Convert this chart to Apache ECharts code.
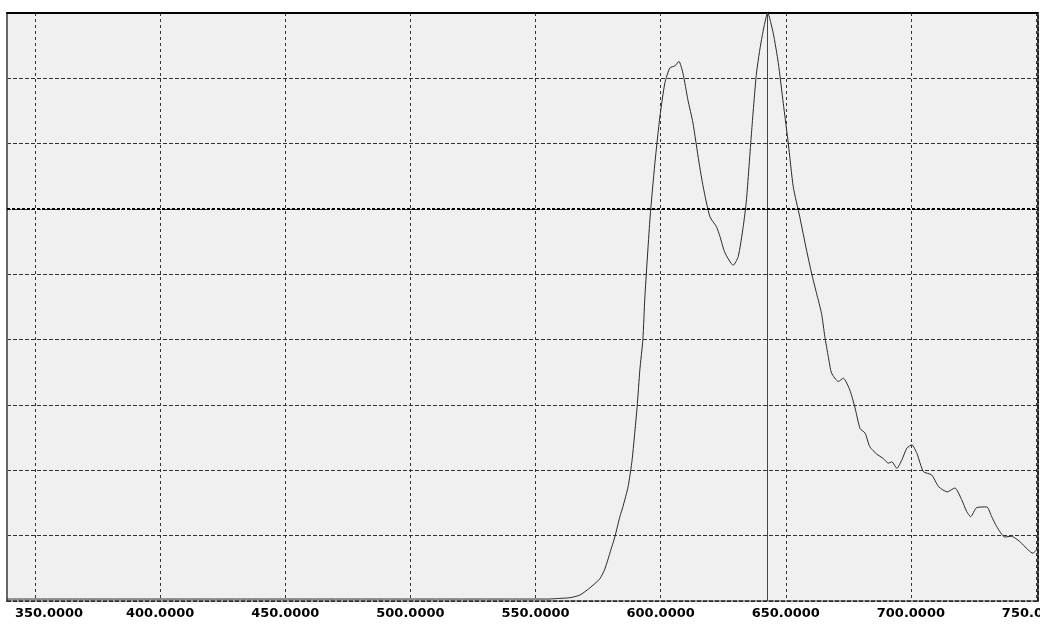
<!DOCTYPE html>
<html>
<head>
<meta charset="utf-8">
<script src="https://cdn.jsdelivr.net/npm/echarts@6/dist/echarts.min.js"></script>
<style>html,body{margin:0;padding:0;background:#fff}#c{width:1040px;height:628px}</style>
</head>
<body>
<div id="c"></div>
<script>
// Wavelength (nm) and relative intensity (in grid units, 0..9)
const wavelengths = [338.8,350,360,370,380,390,400,410,420,430,440,450,460,470,480,490,500,510,520,530,540,550,555,559.7,563.7,567.7,571.7,575.7,577.7,580.5,581.7,583.7,584.9,587.0,588.6,590.6,591.7,592.9,593.7,595.8,597.7,599.7,601.7,603.7,605.7,607.3,608.9,610.9,612.9,615.3,617.0,619.7,622.3,623.7,625.7,629.0,631.0,633.0,634.3,636.3,638.3,640.3,642.8,645.0,647.0,649.0,651.0,653.0,655.6,658.3,660.3,662.3,664.3,665.6,667.0,668.3,671.0,673.0,675.6,677.6,679.7,681.7,683.6,686.3,689.0,691.0,692.4,694.4,696.4,698.4,700.4,702.4,705.0,708.3,711.1,714.5,717.6,720.3,722.3,723.9,726.3,730.3,732.3,734.3,737.5,740.2,743.5,746.9,748.8,750.2,750.8];
const intensities = [0.03,0.03,0.03,0.03,0.03,0.03,0.03,0.03,0.03,0.03,0.03,0.03,0.03,0.03,0.03,0.03,0.03,0.03,0.03,0.03,0.03,0.03,0.03,0.04,0.05,0.09,0.2,0.34,0.49,0.83,0.98,1.29,1.44,1.75,2.16,2.97,3.54,4.0,4.65,5.88,6.70,7.41,7.93,8.16,8.19,8.26,8.08,7.67,7.32,6.72,6.34,5.88,5.73,5.58,5.33,5.14,5.27,5.73,6.14,7.16,8.08,8.59,9.0,8.69,8.24,7.62,7.01,6.34,5.88,5.37,5.02,4.71,4.40,4.05,3.74,3.49,3.36,3.41,3.23,2.97,2.64,2.57,2.36,2.25,2.18,2.11,2.13,2.03,2.16,2.34,2.39,2.26,1.98,1.93,1.75,1.67,1.73,1.55,1.37,1.29,1.43,1.44,1.29,1.14,0.98,0.99,0.91,0.78,0.73,0.78,0.77];
const xTicks = [350,400,450,500,550,600,650,700,750];
const peakMarker = 642.5;
const refLevel = 6;

const series = wavelengths.map((w, i) => [w, intensities[i]]);
const chart = echarts.init(document.getElementById('c'), null, {renderer: 'canvas'});
chart.setOption({
  animation: false,
  backgroundColor: '#ffffff',
  grid: {left: 7, top: 13, right: 2, bottom: 27, show: true, backgroundColor: '#f0f0f0', borderWidth: 0, containLabel: false, outerBoundsMode: 'none'},
  xAxis: [{
    type: 'value', min: 338.8, max: 750.8, position: 'bottom',
    axisLine: {show: true, onZero: false, lineStyle: {color: '#222', width: 1.5, type: [4, 2]}},
    axisTick: {show: false, customValues: xTicks},
    axisLabel: {
      customValues: xTicks, margin: 6, color: '#000',
      fontFamily: 'DejaVu Sans', fontWeight: 'bold', fontSize: 13,
      formatter: v => v === xTicks[0] ? '{first|' + v.toFixed(4) + '}' : v.toFixed(4),
      rich: {first: {padding: [0, 0, 0, 28], fontFamily: 'DejaVu Sans', fontWeight: 'bold', fontSize: 13, color: '#000'}}
    },
    splitLine: {show: true, lineStyle: {color: '#333', width: 1, type: [3, 3]}}
  }, {
    type: 'value', min: 338.8, max: 750.8, position: 'top',
    axisLine: {show: true, onZero: false, lineStyle: {color: '#000', width: 2}},
    axisTick: {show: false}, axisLabel: {show: false}, splitLine: {show: false}
  }],
  yAxis: [{
    type: 'value', min: 0, max: 9, interval: 1, position: 'left',
    axisLine: {show: true, onZero: false, lineStyle: {color: '#666', width: 2}},
    axisTick: {show: false}, axisLabel: {show: false},
    splitLine: {show: true, lineStyle: {color: '#333', width: 1, type: [4, 2]}}
  }, {
    type: 'value', min: 0, max: 9, interval: 1, position: 'right',
    axisLine: {show: true, onZero: false, lineStyle: {color: '#222', width: 2, type: [4, 2]}},
    axisTick: {show: false}, axisLabel: {show: false}, splitLine: {show: false}
  }],
  series: [{
    type: 'line', data: series, showSymbol: false, smooth: 0.2,
    lineStyle: {color: '#2a2a2a', width: 1},
    markLine: {
      silent: true, symbol: 'none', label: {show: false},
      data: [
        {xAxis: peakMarker, lineStyle: {color: '#444', width: 1, type: 'solid'}},
        {yAxis: refLevel, lineStyle: {color: '#000', width: 2, type: [3, 2]}}
      ]
    }
  }]
});
</script>
</body>
</html>
